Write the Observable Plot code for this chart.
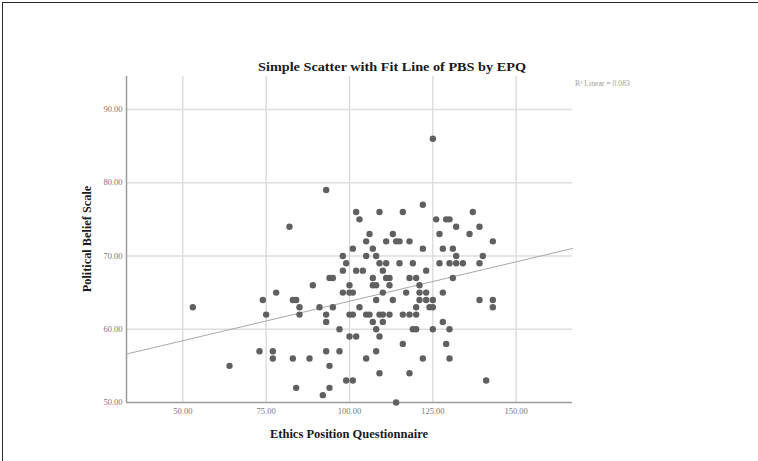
<!DOCTYPE html>
<html>
<head>
<meta charset="utf-8">
<script src="https://cdn.jsdelivr.net/npm/d3@7"></script>
<script src="https://cdn.jsdelivr.net/npm/@observablehq/plot@0.6"></script>
<style>
  html, body { margin: 0; padding: 0; background: #fff; }
  #wrap { position: relative; width: 758px; height: 461px; overflow: hidden; }
  #frame { position: absolute; left: 2px; top: 2px; width: 760px; height: 470px;
           border-left: 1.5px solid #2a2a2a; border-top: 1.5px solid #2a2a2a; pointer-events: none; }
</style>
</head>
<body>
<div id="wrap"><div id="frame"></div></div>
<script>
// Ethics Position Questionnaire (x) and Political Belief Scale (y)
const epq = [125, 93, 122, 102, 109, 116, 137, 103, 126, 129, 130, 82, 132, 139, 106, 113, 127, 136,
  105, 111, 114, 115, 118, 143, 101, 107, 122, 128, 131, 98, 105, 108, 132, 140,
  99, 109, 111, 115, 119, 127, 130, 132, 134, 139, 98, 102, 104, 110, 123,
  94, 95, 107, 111, 112, 118, 120, 131, 89, 100, 107, 108, 112, 121,
  78, 98, 100, 101, 110, 117, 121, 123, 128, 74, 83, 84, 108, 113, 121, 123, 125, 139, 143,
  53, 85, 91, 95, 103, 120, 124, 125, 143,
  75, 85, 93, 100, 101, 105, 106, 109, 110, 112, 116, 118, 120,
  93, 107, 110, 128, 97, 108, 119, 120, 125, 130, 100, 102, 109, 116, 129,
  73, 77, 93, 97, 108, 77, 83, 88, 105, 122, 130, 64, 94, 109, 118, 99, 101, 141, 84, 94, 92, 114];
const pbs = [86, 79, 77, 76, 76, 76, 76, 75, 75, 75, 75, 74, 74, 74, 73, 73, 73, 73,
  72, 72, 72, 72, 72, 72, 71, 71, 71, 71, 71, 70, 70, 70, 70, 70,
  69, 69, 69, 69, 69, 69, 69, 69, 69, 69, 68, 68, 68, 68, 68,
  67, 67, 67, 67, 67, 67, 67, 67, 66, 66, 66, 66, 66, 66,
  65, 65, 65, 65, 65, 65, 65, 65, 65, 64, 64, 64, 64, 64, 64, 64, 64, 64, 64,
  63, 63, 63, 63, 63, 63, 63, 63, 63,
  62, 62, 62, 62, 62, 62, 62, 62, 62, 62, 62, 62, 62,
  61, 61, 61, 61, 60, 60, 60, 60, 60, 60, 59, 59, 59, 58, 58,
  57, 57, 57, 57, 57, 56, 56, 56, 56, 56, 56, 55, 55, 54, 54, 53, 53, 53, 52, 52, 51, 50];

const xTicks = [50, 75, 100, 125, 150];
const yTicks = [50, 60, 70, 80, 90];
const xDomain = [33.1, 166.9];
const yDomain = [50, 94.5];
// linear fit
const fitIntercept = [53.05];
const fitSlope = [0.1077];
const rSquared = [0.083];

const titleText = "Simple Scatter with Fit Line of PBS by EPQ";
const xLabel = "Ethics Position Questionnaire";
const yLabel = "Political Belief Scale";

const points = epq.map((x, i) => ({epq: x, pbs: pbs[i]}));
const fit = xDomain.map(x => ({x, y: fitIntercept[0] + fitSlope[0] * x}));

const serif = "'Liberation Serif', 'Times New Roman', serif";

const chart = Plot.plot({
  width: 758,
  height: 461,
  marginLeft: 126,
  marginRight: 186,
  marginTop: 76,
  marginBottom: 59,
  x: {domain: xDomain, axis: null},
  y: {domain: yDomain, axis: null},
  style: {fontFamily: serif, fontSize: "8.5px", color: "#777", background: "transparent"},
  marks: [
    Plot.gridX(xTicks, {stroke: "#d6d6d6", strokeOpacity: 1, strokeWidth: 1.2}),
    Plot.gridY(yTicks.slice(1), {stroke: "#dedede", strokeOpacity: 1, strokeWidth: 1.6}),
    Plot.axisX(xTicks, {tickSize: 0, tickPadding: 5, tickFormat: d => d.toFixed(2), label: null, fill: "#777"}),
    Plot.axisY(yTicks, {tickSize: 0, tickPadding: 4, tickFormat: d => d.toFixed(2), label: null, fill: "#777"}),
    Plot.ruleX([xDomain[0]], {stroke: "#9a9a9a", strokeWidth: 1.5}),
    Plot.ruleY([yDomain[0]], {stroke: "#9a9a9a", strokeWidth: 1.5}),
    Plot.line(fit, {x: "x", y: "y", stroke: "#a8a8a8", strokeWidth: 1}),
    Plot.dot(points, {x: "epq", y: "pbs", r: 3.2, fill: "#606060", stroke: "none"})
  ]
});

document.getElementById("wrap").insertBefore(chart, document.getElementById("frame"));

const svg = d3.select(chart);
svg.append("text")
  .attr("x", 392).attr("y", 71)
  .attr("text-anchor", "middle")
  .attr("font-family", serif).attr("font-weight", "bold").attr("font-size", 13.5)
  .attr("fill", "#1a1a1a")
  .attr("textLength", 268).attr("lengthAdjust", "spacingAndGlyphs")
  .text(titleText);
svg.append("text")
  .attr("x", 575).attr("y", 86)
  .attr("text-anchor", "start")
  .attr("font-family", serif).attr("font-size", 7.7)
  .attr("fill", "#a0a0a0")
  .text("R\u00B2 Linear = " + rSquared[0].toFixed(3));
svg.append("text")
  .attr("x", 349).attr("y", 438)
  .attr("text-anchor", "middle")
  .attr("font-family", serif).attr("font-weight", "bold").attr("font-size", 12.5)
  .attr("fill", "#1a1a1a")
  .text(xLabel);
svg.append("text")
  .attr("transform", "translate(91,239) rotate(-90)")
  .attr("text-anchor", "middle")
  .attr("font-family", serif).attr("font-weight", "bold").attr("font-size", 12.3)
  .attr("fill", "#1a1a1a")
  .text(yLabel);
</script>
</body>
</html>
